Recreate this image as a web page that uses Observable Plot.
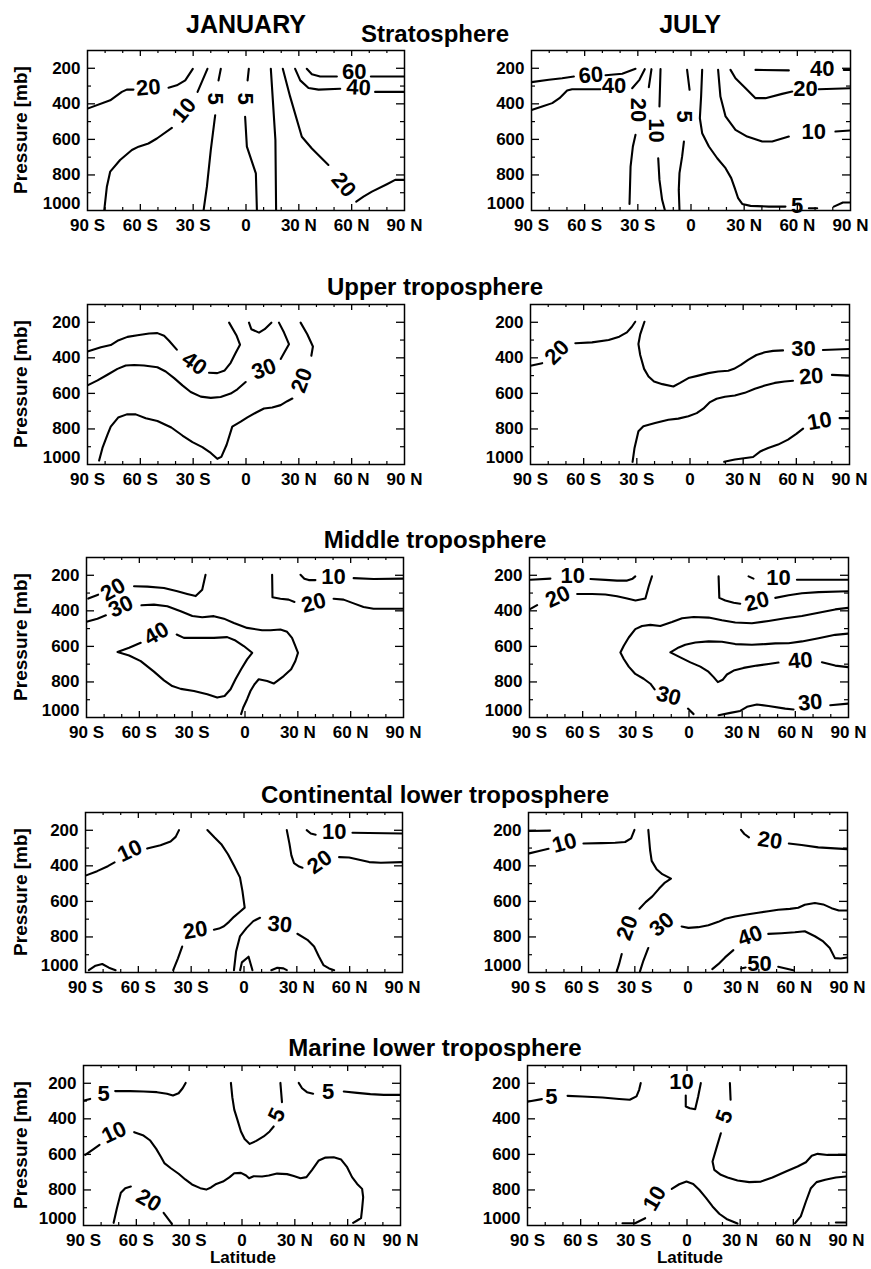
<!DOCTYPE html>
<html>
<head>
<meta charset="utf-8">
<script src="https://cdn.jsdelivr.net/npm/d3@7"></script>
<script src="https://cdn.jsdelivr.net/npm/@observablehq/plot@0.6"></script>
<style>
  html, body { margin: 0; padding: 0; background: #fff; }
  #root { position: relative; width: 871px; height: 1269px; overflow: hidden;
          font-family: "Liberation Sans", Arial, Helvetica, sans-serif; font-weight: bold; color: #000; }
  .lbl { position: absolute; white-space: nowrap; }
</style>
</head>
<body>
<div id="root"></div>
<script>
// ---------------- DATA ----------------
const rowTitles = ["Stratosphere", "Upper troposphere", "Middle troposphere", "Continental lower troposphere", "Marine lower troposphere"];
const monthTitles = ["JANUARY", "JULY"];
const latTicks = [-90, -60, -30, 0, 30, 60, 90];
const latTickLabels = ["90 S", "60 S", "30 S", "0", "30 N", "60 N", "90 N"];
const latMinor = [-80, -70, -50, -40, -20, -10, 10, 20, 40, 50, 70, 80];
const latMajor = [-60, -30, 0, 30, 60];
const pTicks = [200, 400, 600, 800];
const pBottomTick = [1000];
const pMinor = [300, 500, 700, 900];
const yLabel = "Pressure [mb]";
const xLabel = "Latitude";

// contour segments: [latitude, pressure] ; labels: [text, latitude, pressure, rotation]
const janStratLines = [
  [[-90,427],[-77.1,380],[-70.5,333],[-67.7,320],[-63.9,320]],
  [[-44,309],[-39.3,296],[-34.5,268],[-30.2,203]],
  [[-80.5,1000],[-79,866],[-77.1,781],[-71.5,716],[-64.8,660],[-61,641],[-55.4,623],[-50.6,595],[-42.1,535]],
  [[-27.5,333],[-21.9,203]],
  [[-24.1,1000],[-22.2,866],[-20,660],[-17.5,464]],
  [[-15.6,268],[-14.3,203]],
  [[6.2,1000],[5.6,791],[0.5,641],[-0.5,473]],
  [[0.9,268],[1.6,203]],
  [[17.1,1000],[16.7,604],[14.1,203]],
  [[20.9,203],[25.1,361],[31.7,585],[37.4,651],[46.8,744]],
  [[62.6,950],[66.7,922],[71.5,894],[80,852],[84.7,828],[90,828]],
  [[27.9,203],[30.8,268],[35.5,311],[41.2,320],[53.5,315]],
  [[73.3,333],[90,333]],
  [[34.5,203],[37.4,234],[42.1,246],[51.6,246]],
  [[70.9,246],[90,246]]
];
const janStratLabels = [["20",-55.4,309,-5],["10",-35.1,436,-50],["5",-17.5,371,90],["5",-0.5,371,90],["20",55.4,856,50],["40",63.9,309,3],["60",61.4,218,0]];

const julStratLines = [
  [[-90,278],[-80.2,265],[-72.7,256],[-66.1,246]],
  [[-48.2,239],[-38.8,231],[-31.3,203]],
  [[-90,434],[-84,415],[-78.3,396],[-74.2,368],[-69.9,325],[-67.1,318],[-57.6,318],[-51.1,318]],
  [[-33.2,312],[-29.1,265],[-26.1,205]],
  [[-22.3,205],[-23.8,306]],
  [[-31.3,574],[-32.8,640],[-34.1,753],[-34.7,963]],
  [[-17.2,205],[-17.8,415]],
  [[-18.5,706],[-17.8,828],[-16.3,940],[-14.8,996]],
  [[-2.2,209],[-0.8,321]],
  [[-4,612],[-5,696],[-6.5,790],[-6.9,884],[-6.5,996]],
  [[6.3,209],[5.7,359],[5,481],[6.3,565],[10.1,640],[14.8,706],[19.5,762],[22.7,818],[24.7,874],[26.6,931],[28.9,963],[33.6,974],[43.9,978],[53.3,978]],
  [[66.5,987],[71.2,987]],
  [[80.6,978],[85.7,955],[90,955]],
  [[15.3,209],[16.6,359],[19.5,471],[25.1,546],[31.7,584],[40.2,612],[45.8,612],[55.2,584]],
  [[81.5,556],[90,550]],
  [[22.3,209],[25.1,256],[30.8,312],[36.4,368],[42,368],[51.4,344],[57.1,331]],
  [[72.1,318],[90,312]],
  [[36.4,209],[55.2,212]],
  [[86.2,209],[90,209]]
];
const julStratLabels = [["60",-56.5,239,-5],["40",-43.5,299,0],["20",-29.8,434,90],["10",-20,550,90],["5",-4,471,90],["5",59.9,972,0],["10",69.3,556,0],["20",64.6,318,0],["40",74,203,0]];

const janUpperLines = [
  [[-90,365],[-82.4,341],[-76.8,328],[-73,304],[-67.3,282],[-61.6,273],[-55,263],[-50.3,261],[-46.5,276],[-43.7,304],[-39.3,354]],
  [[-21,484],[-16.3,486],[-12.1,471],[-8.7,428],[-5.9,373],[-3.4,326],[-5.3,276],[-9.6,202]],
  [[1.7,202],[3,239],[7.4,258],[10.6,239],[14.4,202]],
  [[-90,555],[-84.3,527],[-78.7,495],[-73,462],[-68.3,443],[-63.5,440],[-57.9,443],[-50.3,453],[-45.6,477],[-40.8,514],[-36.1,555],[-31.4,592],[-25.7,618],[-20,625],[-14.4,620],[-8.7,601],[-4.9,577],[-0.2,536]],
  [[19.7,406],[21.6,373],[24.4,323],[21.6,258],[18.7,202]],
  [[-83.4,978],[-81.5,907],[-78.7,833],[-76.8,787],[-72.6,736],[-67.7,718],[-62.6,718],[-56.9,740],[-50.3,755],[-42.4,792],[-36.1,837],[-30.4,874],[-24.8,902],[-20,935],[-16.3,968],[-14,957],[-11,889],[-7.8,787],[-3,759],[0.8,735],[5.5,709],[10.2,685],[14.9,679],[19.7,666],[23.4,644],[26.3,629]],
  [[37.1,388],[38,336],[34.8,267],[31,202]]
];
const janUpperLabels = [["40",-29.3,432,35],["30",10.2,464,-20],["20",31.7,527,-70]];

const julUpperLines = [
  [[-90,444],[-83.4,430]],
  [[-64.7,318],[-55.3,313],[-45.9,300],[-39.9,281],[-35.6,257],[-32.8,225],[-30.9,197]],
  [[-25.7,197],[-28.1,268],[-29.1,322],[-28.1,384],[-25.9,462],[-23.4,505],[-20.3,533],[-15.6,548],[-9.4,561],[-5.6,541],[-0.9,514],[4.7,500],[10.3,486],[15.9,477],[21.6,473],[24.8,462],[28.7,440],[32.8,412],[37.5,384],[42.2,369],[46.9,361],[52.5,358]],
  [[75,356],[90,350]],
  [[-32.4,985],[-31.3,907],[-29.1,813],[-26.3,785],[-19.7,767],[-12.2,748],[-6.6,742],[-0.9,729],[3.8,711],[7.5,686],[11.3,649],[15,630],[19.7,619],[25.3,612],[30.9,597],[36.6,574],[42.2,556],[47.8,541],[53.4,533],[58.1,529]],
  [[80.1,496],[90,500]],
  [[19.3,985],[25.3,972],[35.6,958],[39.9,925],[44.1,907],[49.7,888],[55.3,860],[60,828],[63.8,798]],
  [[84.4,739],[90,739]]
];
const julUpperLabels = [["20",-75,369,-45],["30",64.1,348,0],["20",68.4,505,-5],["10",73.1,757,-10]];

const janMidLines = [
  [[-89,331],[-83.4,309]],
  [[-63,262],[-55.4,264],[-46,272],[-38.4,290],[-32.8,305],[-28,317],[-24.3,281],[-22.4,197]],
  [[-90,462],[-83.8,444],[-79,425]],
  [[-58.8,369],[-51.7,365],[-44.1,374],[-36.5,402],[-29.9,429],[-24.3,436],[-17.7,430],[-12,444],[-6.3,468],[1.2,496],[9.7,509],[14.5,509],[20.1,505],[23.9,518],[26.7,552],[28.6,598],[30.1,636],[28.6,682],[26.2,729],[22,767],[16.3,809],[12.6,795],[7.8,785],[5.4,813],[3.1,851],[1.2,897],[-1,944],[-2.2,981]],
  [[-38.8,533],[-34.7,552],[-25.2,552],[-17.7,552],[-10.1,548],[-5.4,567],[-0.7,598],[4.1,636],[1.2,673],[-2.2,729],[-5.4,785],[-8.2,841],[-11.6,879],[-15.8,888],[-21.4,869],[-29,851],[-36.5,839],[-41.3,823],[-46,791],[-51.7,742],[-59.2,683],[-65.8,651],[-72.4,632],[-65.8,608],[-59.2,580]],
  [[15.4,197],[15.6,324],[20.1,332],[24.8,337],[28.1,350]],
  [[50.3,332],[56,337],[61.7,358],[67.3,378],[73,388],[90,388]],
  [[31.5,197],[33.7,219],[36.2,227],[40,227]],
  [[61.7,216],[73,221],[90,219]]
];
const janMidLabels = [["20",-74.9,281,-30],["30",-70.5,376,-25],["40",-50.3,529,-30],["20",39,356,-15],["10",50.3,212,0]];

const julMidLines = [
  [[-89.4,225],[-78.2,219]],
  [[-55.6,221],[-47.2,226],[-40.6,230],[-34.9,230],[-31.8,219],[-30.3,206]],
  [[-90,392],[-85.7,368]],
  [[-63.1,305],[-54.7,305],[-47.2,308],[-40.6,318],[-34.9,331],[-30.2,342],[-24.6,331],[-22.7,262],[-20.9,206]],
  [[90,383],[82.5,392],[73.1,411],[63.7,429],[54.3,442],[44.9,457],[35.5,470],[26.1,466],[18.6,453],[11.1,438],[2.6,435],[-3.9,442],[-9.6,463],[-16.2,485],[-21.8,479],[-26.5,485],[-30.3,503],[-34,550],[-36.8,596],[-38.7,634],[-36.8,671],[-34,714],[-30.3,755],[-25.6,782],[-21.8,810],[-19.4,842]],
  [[-0.6,950],[2.6,981]],
  [[16.7,987],[23.3,974],[28.9,963],[32.7,940],[38.3,927],[44.9,935],[54.3,950],[59,955]],
  [[79.7,931],[90,922]],
  [[90,528],[82.5,535],[73.1,554],[63.7,572],[56.2,582],[48.7,583],[43,587],[35.5,591],[26.1,587],[18.6,574],[11.1,572],[3.6,578],[-2.1,591],[-5.8,606],[-10.5,634],[-4.9,662],[0.8,690],[6.4,714],[10.7,740],[13.9,773],[16.3,801],[19,788],[21.4,758],[25.2,736],[30.8,721],[38.3,708],[44.9,699],[50.5,691]],
  [[75,689],[82.5,708],[90,717]],
  [[33.6,206],[36.4,219]],
  [[60.9,225],[90,225]],
  [[16.7,206],[17.1,327],[20.5,342],[25.2,355],[28.9,360]],
  [[48.7,327],[56.2,312],[63.7,301],[73.1,295],[90,290]]
];
const julMidLabels = [["10",-65.6,206,0],["20",-74,321,-25],["30",-11.5,879,15],["40",62.8,680,-5],["10",50.5,215,0],["20",38.3,349,-15],["30",68.4,916,-5]];

const janContLines = [
  [[-90,455],[-83.4,430],[-77.3,402],[-73.5,381]],
  [[-55,303],[-47.4,284],[-41.7,263],[-38.8,237],[-36.9,199]],
  [[-20.8,199],[-16.7,241],[-12.9,278],[-9.1,335],[-5.7,398],[-2.3,465],[-0.9,541],[0.4,635],[-2.3,658],[-5.7,687],[-8.5,715],[-11.4,740],[-14.2,753],[-17.1,759]],
  [[-35.1,854],[-37.5,920],[-40.2,987]],
  [[-5.7,987],[-4.5,882],[-2.3,797],[1.5,749],[5.3,711],[9.1,692]],
  [[30.3,782],[36,816],[39.8,854],[42.6,911],[45.1,958],[48.3,977],[51.2,987]],
  [[-88.1,987],[-84.3,962],[-80.5,952],[-76.7,973],[-72.9,987]],
  [[-2.2,987],[-1.2,943],[2.6,911],[3.7,949],[4.8,987]],
  [[15.5,987],[18.9,973],[22.4,977],[24.3,987]],
  [[24.3,199],[25.8,275],[26.9,341],[28.4,385],[31.3,404],[33.2,411]],
  [[54,351],[59.7,353],[65.4,366],[71.1,379],[77.7,383],[90,379]],
  [[35.6,199],[37.9,218],[40.7,225]],
  [[61.6,214],[90,218]]
];
const janContLabels = [["10",-64.8,316,-25],["20",-27.7,763,-10],["30",20.3,730,5],["20",43,379,-35],["10",51.2,208,0]];

const julContLines = [
  [[-89.6,204],[-77.8,202]],
  [[-89.6,330],[-84,317],[-78.7,304]],
  [[-59,274],[-48.7,272],[-41.1,270],[-35.5,266],[-32.1,245],[-30.2,198]],
  [[-22.4,198],[-21.4,311],[-20.5,372],[-17.7,419],[-14.5,447],[-9.6,472],[-13,494],[-16.3,528],[-20.1,572],[-23.9,604],[-27.4,641]],
  [[-37.4,896],[-38.9,953],[-40.2,994]],
  [[-27.1,994],[-25.2,934],[-22.4,862]],
  [[-3.6,741],[0.2,749],[5.8,745],[11.5,734],[17.1,715],[20.9,698],[26.5,685],[33.1,674],[39.6,664],[45.3,655],[50.9,647],[57.5,642],[62.2,636],[65.9,619],[71.6,609],[76.3,617],[81,638],[85.1,651],[90,651]],
  [[13.7,981],[17.1,953],[20.9,915],[25.6,874]],
  [[45.3,783],[52.8,779],[60.3,774],[65.9,768],[71.6,796],[76.3,825],[80,862],[82.9,919],[86.2,921],[90,915]],
  [[29.9,977],[32.5,972]],
  [[50.9,968],[59.4,987]],
  [[29.9,198],[31.8,221],[34.4,240]],
  [[56.9,274],[64.1,283],[73.5,296],[90,306]]
];
const julContLabels = [["10",-69.7,272,-15],["20",-34.2,749,-70],["30",-14.8,730,-40],["40",35.1,795,-20],["50",40.3,953,0],["20",46.2,258,8]];

const janMarLines = [
  [[-89.6,297],[-86.2,288]],
  [[-72,244],[-63.5,244],[-55.9,246],[-48.3,250],[-42.6,259],[-39.2,269],[-36,256],[-33.7,228],[-32,198]],
  [[-89,603],[-84.7,573],[-80.9,546]],
  [[-61.2,475],[-55.9,494],[-52.1,522],[-48.7,569],[-45.9,616],[-44.1,649],[-40.4,678],[-36,709],[-32.2,741],[-28.4,769],[-23.7,790],[-20.3,798],[-17.6,786],[-14.6,766],[-10.8,753],[-7,728],[-4.4,706],[-0.6,704],[2.3,719],[4,734],[6.6,723],[11.4,724],[15.2,719],[19.9,708],[25.6,711],[29.4,722],[33.2,734],[36.6,728],[39.8,687],[43.6,634],[47.4,618],[52.1,616],[56.3,629],[59.7,672],[62.5,728],[65.4,766],[68.2,794],[68.8,841],[68.2,906],[67.6,959],[65.4,972],[63.1,985]],
  [[-72.9,985],[-71.1,906],[-68.8,816],[-66.3,790],[-63.1,781]],
  [[-44.5,929],[-39.8,991]],
  [[-6.3,198],[-5.5,278],[-4.4,348],[-2.5,409],[-0.6,471],[1.5,513],[4.4,541],[8.1,524],[12.3,499],[15.7,471],[18,443]],
  [[22.7,306],[21.8,198]],
  [[32.2,198],[34.1,228],[36.9,250],[40.4,259]],
  [[57.8,246],[65.4,254],[72.9,261],[80.5,265],[90,265]]
];
const janMarLabels = [["5",-78.6,259,0],["10",-72.6,477,-25],["20",-53,859,30],["5",19.9,378,-65],["5",48.9,250,0]];

const julMarLines = [
  [[-89.4,303],[-81.9,289]],
  [[-67.4,271],[-59,274],[-47.7,280],[-38.3,288],[-32.3,293],[-28.5,274],[-27,237],[-26.1,199]],
  [[-0.7,269],[-0.7,331],[1.6,340],[4.6,346],[6.3,274],[7.8,199]],
  [[24.2,199],[24.6,293]],
  [[19.1,481],[16.6,565],[14.4,640],[15.4,687],[19.1,715],[22.9,730],[28.5,747],[35.1,756],[41.7,753],[48.2,730],[55.8,696],[62.4,668],[67.1,644],[70.4,608],[73.7,597],[79.3,603],[90,603]],
  [[-36.4,987],[-29.3,987],[-23.6,959]],
  [[-8.6,794],[-4.4,768],[-0.3,753],[3.5,766],[6.9,799],[10.6,843],[14.4,893],[18.2,934],[22.3,963],[28.5,989]],
  [[61,987],[64.2,949],[67.1,865],[69.9,790],[73.1,756],[78,743],[84,730],[90,724]],
  [[84,983],[90,983]]
];
const julMarLabels = [["5",-76.5,279,0],["10",-3.1,190,0],["5",21.2,387,-70],["10",-18.2,848,-60]];

const panelData = [
  [[janStratLines, janStratLabels], [julStratLines, julStratLabels]],
  [[janUpperLines, janUpperLabels], [julUpperLines, julUpperLabels]],
  [[janMidLines, janMidLabels], [julMidLines, julMidLabels]],
  [[janContLines, janContLabels], [julContLines, julContLabels]],
  [[janMarLines, janMarLabels], [julMarLines, julMarLabels]]
];

// ---------------- LAYOUT ----------------
const FONT = '"Liberation Sans", Arial, Helvetica, sans-serif';
const root = document.getElementById("root");
const rowTops = [50, 304, 557, 812, 1065];
const frameLeft = [[87, 531], [87, 530], [86, 529], [85, 528], [83, 527]];
const frameW = [317, 319];
const H = 160;
const titleBase = [42, 295, 548, 803, 1056];

function addText(txt, cx, baseline, size) {
  const d = document.createElement("div");
  d.className = "lbl";
  d.textContent = txt;
  d.style.fontSize = size + "px";
  d.style.lineHeight = size + "px";
  d.style.top = (baseline - 0.8465 * size) + "px";
  d.style.left = cx + "px";
  d.style.transform = "translateX(-50%)";
  root.appendChild(d);
  return d;
}

function panel(lines, labels, fx, top, w) {
  const mL = 80, mR = 30, mT = 6, mB = 34;
  const data = lines.flatMap((seg, i) => seg.map(([lat, p]) => ({lat, p, id: i})));
  const labs = labels.map(([text, lat, p, rot]) => ({text, lat, p, rot}));
  const black = {stroke: "black"};
  const axisFont = {fontSize: 17, fontWeight: "bold", fontFamily: FONT, fill: "black"};
  const svg = Plot.plot({
    width: w + mL + mR, height: H + mT + mB,
    marginLeft: mL, marginRight: mR, marginTop: mT, marginBottom: mB,
    style: {fontFamily: FONT, fontWeight: "bold", fontSize: "17px", color: "black", background: "transparent", overflow: "visible"},
    x: {domain: [-90, 90]},
    y: {domain: [100, 1000], reverse: true},
    marks: [
      Plot.line(data, {x: "lat", y: "p", z: "id", stroke: "black", strokeWidth: 2.1, strokeLinejoin: "round", clip: true}),
      Plot.text(labs, {x: "lat", y: "p", text: "text", rotate: "rot", fontSize: 22, fontWeight: "bold", fill: "black", fontFamily: FONT}),
      // inward ticks
      Plot.ruleX(latMinor, {x: d => d, insetTop: H - 3, ...black, strokeWidth: 1.2}),
      Plot.ruleX(latMinor, {x: d => d, insetBottom: H - 3, ...black, strokeWidth: 1.2}),
      Plot.ruleX(latMajor, {x: d => d, insetTop: H - 6, ...black, strokeWidth: 1.3}),
      Plot.ruleX(latMajor, {x: d => d, insetBottom: H - 6, ...black, strokeWidth: 1.3}),
      Plot.ruleY(pMinor, {y: d => d, insetRight: w - 4, ...black, strokeWidth: 1.2}),
      Plot.ruleY(pMinor, {y: d => d, insetLeft: w - 4, ...black, strokeWidth: 1.2}),
      Plot.ruleY(pTicks, {y: d => d, insetRight: w - 8, ...black, strokeWidth: 1.3}),
      Plot.ruleY(pTicks, {y: d => d, insetLeft: w - 8, ...black, strokeWidth: 1.3}),
      // tick labels
      Plot.axisX(latTicks, {anchor: "bottom", tickSize: 0, tickPadding: 8, label: null, ...axisFont,
        tickFormat: d => latTickLabels[latTicks.indexOf(d)]}),
      Plot.axisY(pTicks, {anchor: "left", tickSize: 0, tickPadding: 7, label: null, ...axisFont, tickFormat: d => String(d)}),
      Plot.axisY(pBottomTick, {anchor: "left", tickSize: 0, tickPadding: 7, label: null, ...axisFont, tickFormat: d => String(d), dy: -7}),
      Plot.frame({stroke: "black", strokeWidth: 1.5})
    ]
  });
  svg.style.position = "absolute";
  svg.style.left = (fx - mL) + "px";
  svg.style.top = (top - mT) + "px";
  root.appendChild(svg);
}

// month headers
addText(monthTitles[0], 246, 33, 25);
addText(monthTitles[1], 690, 33, 25);

rowTitles.forEach((t, r) => {
  addText(t, 435, titleBase[r], 24);
  panelData[r].forEach(([lines, labels], c) => {
    panel(lines, labels, frameLeft[r][c], rowTops[r], frameW[c]);
  });
  const d = document.createElement("div");
  d.className = "lbl";
  d.textContent = yLabel;
  d.style.fontSize = "19px";
  d.style.lineHeight = "19px";
  d.style.left = "20px";
  d.style.top = (rowTops[r] + H / 2) + "px";
  d.style.transform = "translate(-50%, -50%) rotate(-90deg)";
  root.appendChild(d);
});

addText(xLabel, 243, 1263, 17);
addText(xLabel, 690, 1263, 17);
</script>
</body>
</html>
